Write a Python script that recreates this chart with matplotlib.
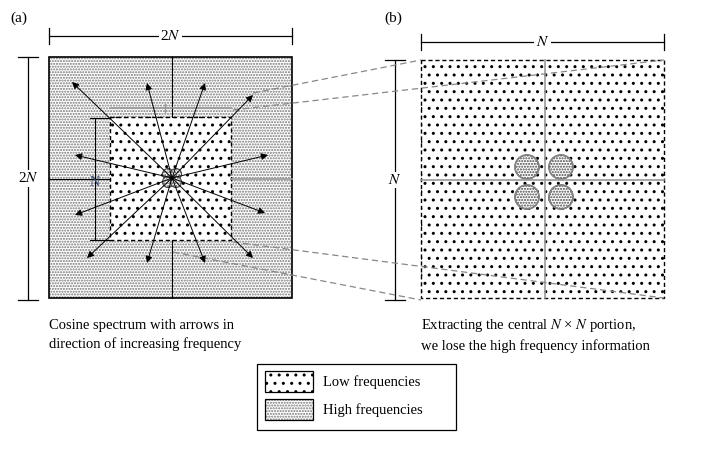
import matplotlib
matplotlib.use("Agg")
import matplotlib.pyplot as plt
from matplotlib.patches import Rectangle, Circle

plt.rcParams['font.family'] = 'Liberation Serif'
plt.rcParams['mathtext.fontset'] = 'stix'
plt.rcParams['hatch.linewidth'] = 1.0

# geometry of the diagram, in pixels
box_a = (49, 57, 292, 298)
inner_a = (110, 117, 231, 240)
center_a = (172, 178)
box_b = (421, 60, 664, 298)
arrow_tips = [(72, 82), (147, 83), (205, 83), (253, 95), (75, 155), (268, 155),
              (75, 215), (265, 213), (87, 258), (147, 263), (205, 263), (253, 258)]
small_circles = [(-4, -4), (4, -4), (-4, 4), (4, 4)]
big_circles = [(527, 167), (561, 167), (527, 197), (561, 197)]
connect_lines = [((253, 93), (421, 60)), ((233, 110), (664, 60)),
                 ((233, 242), (664, 298)), ((173, 252), (421, 300))]

HIGH = dict(facecolor='white', edgecolor='#777777', hatch='......', lw=0)
LOW = dict(facecolor='white', edgecolor='black', hatch='..', lw=0)

fig = plt.figure(figsize=(7.13, 4.49), dpi=100)
ax = fig.add_axes([0, 0, 1, 1])
ax.set_xlim(0, 713)
ax.set_ylim(449, 0)
ax.axis('off')

def rect(b, **kw):
    return Rectangle((b[0], b[1]), b[2] - b[0], b[3] - b[1], **kw)

def dim(x0, y0, x1, y1, label, vertical=False):
    ax.plot([x0, x1], [y0, y1], color='black', lw=0.9)
    if vertical:
        ax.plot([x0 - 10, x0 + 10], [y0, y0], color='black', lw=0.9)
        ax.plot([x1 - 10, x1 + 10], [y1, y1], color='black', lw=0.9)
        ax.text(x0, (y0 + y1) / 2, label, ha='center', va='center', fontsize=11,
                bbox=dict(fc='white', ec='none', pad=1))
    else:
        ax.plot([x0, x0], [y0 - 8, y0 + 8], color='black', lw=0.9)
        ax.plot([x1, x1], [y1 - 8, y1 + 8], color='black', lw=0.9)
        ax.text((x0 + x1) / 2, y0, label, ha='center', va='center', fontsize=11,
                bbox=dict(fc='white', ec='none', pad=1))

# panel (a)
ax.add_patch(rect(box_a, **HIGH))
ax.add_patch(rect(box_a, fill=False, ec='black', lw=1.2))
ax.add_patch(rect(inner_a, **LOW))
ax.add_patch(rect(inner_a, fill=False, ec='black', lw=1.0, ls=(0, (3, 2))))
cx, cy = center_a
ax.plot([cx, cx], [box_a[1], inner_a[1]], color='black', lw=0.8)
ax.plot([cx, cx], [inner_a[3], box_a[3]], color='black', lw=0.8)
ax.plot([box_a[0], inner_a[0]], [cy + 1, cy + 1], color='black', lw=0.8)
ax.plot([inner_a[2], box_a[2]], [cy + 1, cy + 1], color='#999999', lw=1.2)
ax.plot([inner_a[0], inner_a[2]], [108, 108], color='#999999', lw=1.2)
ax.plot([165, 165], [104, 112], color='#999999', lw=1.0)
ax.plot([95, 95], [118, 240], color='black', lw=0.8)
ax.plot([90, 110], [118, 118], color='black', lw=0.8)
ax.plot([90, 110], [240, 240], color='black', lw=0.8)
ax.text(95, 182, 'N', ha='center', va='center', fontsize=10, color='#334466')
for dx, dy in small_circles:
    ax.add_patch(Circle((cx + dx, cy + dy), 5.5, facecolor='white', edgecolor='#444444',
                        hatch='......', lw=0.8))
for tx, ty in arrow_tips:
    ax.annotate('', xy=(tx, ty), xytext=(cx, cy),
                arrowprops=dict(arrowstyle='-|>', color='black', lw=0.7,
                                mutation_scale=10, shrinkA=0, shrinkB=0))
dim(49, 36, 292, 36, '2$N$')
dim(28, 57, 28, 300, '2$N$', vertical=True)
ax.text(10, 18, '(a)', fontsize=11, va='center')

# panel (b)
ax.add_patch(rect(box_b, **LOW))
ax.add_patch(rect(box_b, fill=False, ec='black', lw=1.0, ls=(0, (3, 2))))
ax.plot([545, 545], [box_b[1], box_b[3]], color='#999999', lw=1.2)
ax.plot([box_b[0], box_b[2]], [180, 180], color='#999999', lw=1.2)
for bx, by in big_circles:
    ax.add_patch(Circle((bx, by), 12, facecolor='white', edgecolor='#444444',
                        hatch='......', lw=1.0))
    ax.add_patch(Circle((bx, by), 12, fill=False, edgecolor='#888888', lw=1.0))
dim(421, 42, 664, 42, '$N$')
dim(395, 60, 395, 300, '$N$', vertical=True)
ax.text(384, 18, '(b)', fontsize=11, va='center')

for (p0, p1) in connect_lines:
    ax.plot([p0[0], p1[0]], [p0[1], p1[1]], color='#888888', lw=0.9, ls=(0, (5, 3)))

# captions
ax.text(49, 335, 'Cosine spectrum with arrows in\ndirection of increasing frequency',
        fontsize=10.5, va='center', linespacing=1.4)
ax.text(421, 335, 'Extracting the central $N$ \u00d7 $N$ portion,\nwe lose the high frequency information',
        fontsize=10.5, va='center', linespacing=1.4)

# legend
ax.add_patch(Rectangle((257, 364), 199, 66, fill=False, ec='black', lw=0.9))
ax.add_patch(Rectangle((265, 371), 48, 21, **LOW))
ax.add_patch(Rectangle((265, 371), 48, 21, fill=False, ec='black', lw=0.9))
ax.add_patch(Rectangle((265, 399), 48, 21, **HIGH))
ax.add_patch(Rectangle((265, 399), 48, 21, fill=False, ec='black', lw=0.9))
ax.text(323, 382, 'Low frequencies', fontsize=10.5, va='center')
ax.text(323, 410, 'High frequencies', fontsize=10.5, va='center')

fig.savefig('out.png', dpi=100)
